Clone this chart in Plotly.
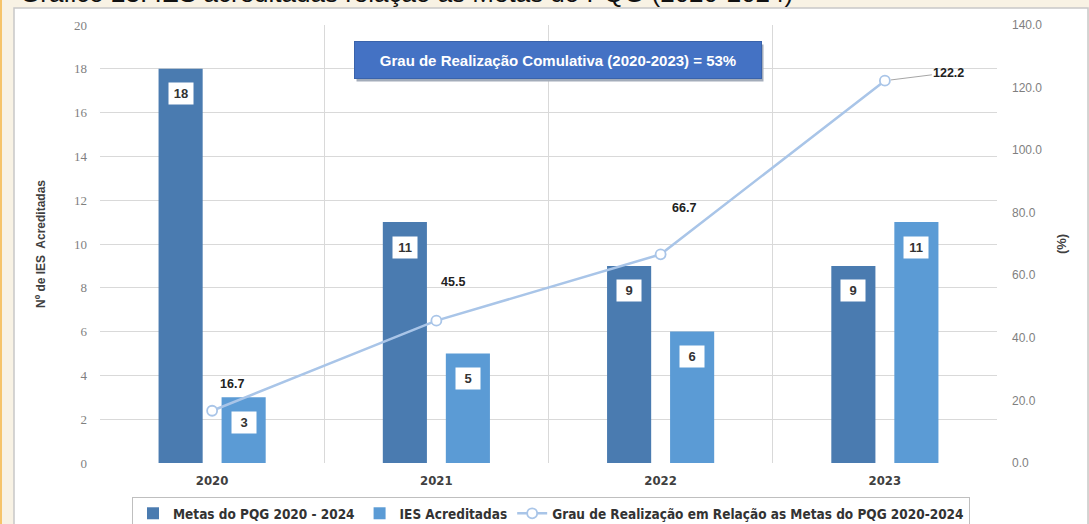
import plotly.graph_objects as go

years = ["2020", "2021", "2022", "2023"]
metas = [18, 11, 9, 9]
acreditadas = [3, 5, 6, 11]
grau = [16.7, 45.5, 66.7, 122.2]
left_ticks = list(range(0, 21, 2))
right_ticks = [0, 20, 40, 60, 80, 100, 120, 140]

name_metas = "Metas do PQG 2020 - 2024"
name_ies = "IES Acreditadas"
name_grau = "Grau de Realização em Relação as Metas do PQG 2020-2024"
box_text = "Grau de Realização Comulativa (2020-2023) = 53%"
top_text = "Gráfico 23: IES acreditadas relação às Metas do PQG (2020-2024)"

W, H = 1089, 524
ML, MR, MT, MB = 100, 92, 25, 61
PW = W - ML - MR
PH = H - MT - MB
BARGAP = 0.438
BARGROUPGAP = 0.30

def px_x(px):
    return (px - ML) / PW

def px_y(py):
    return (H - MB - py) / PH

c_dark = "#4a7bb0"
c_light = "#5b9bd5"
c_line = "#a9c5e8"
narrow = "DejaVu Sans Condensed, Liberation Sans Narrow, Arial Narrow, sans-serif"

fig = go.Figure()
fig.add_trace(go.Bar(x=years, y=metas, name=name_metas, marker_color=c_dark,
                     marker_line_width=0))
fig.add_trace(go.Bar(x=years, y=acreditadas, name=name_ies, marker_color=c_light,
                     marker_line_width=0))
fig.add_trace(go.Scatter(x=years, y=grau, name=name_grau, yaxis="y2",
                         mode="lines+markers",
                         line=dict(color=c_line, width=2.5),
                         marker=dict(symbol="circle", size=10, color="white",
                                     line=dict(color=c_line, width=1.8))))

ann = []
shift = (PW / len(years)) * (1 - BARGAP) / 4
for series, sgn in ((metas, -1), (acreditadas, 1)):
    for i, v in enumerate(series):
        ann.append(dict(x=i, y=v, xref="x", yref="y", text=f"<b>{v}</b>",
                        showarrow=False, xshift=sgn * shift, yshift=-25,
                        bgcolor="white", borderpad=3, width=18,
                        font=dict(family="Liberation Sans, Arial", size=13, color="#333333")))

label_offsets = [(20, -27), (17, -39), (23, -46), (64, -8)]
for i, v in enumerate(grau):
    dx, dy = label_offsets[i]
    if i == 3:
        ann.append(dict(x=i, y=v, xref="x", yref="y2", text=f"<b>{v}</b>",
                        showarrow=True, ax=dx, ay=dy, arrowhead=0, arrowwidth=1,
                        arrowcolor="#a6a6a6", standoff=6,
                        font=dict(family="Liberation Sans, Arial", size=12.5, color="#222222")))
    else:
        ann.append(dict(x=i, y=v, xref="x", yref="y2", text=f"<b>{v}</b>",
                        showarrow=False, xshift=dx, yshift=-dy,
                        font=dict(family="Liberation Sans, Arial", size=12.5, color="#222222")))

# title box with shadow
ann.append(dict(x=px_x(559.5), y=px_y(63), xref="paper", yref="paper", text="",
                xanchor="center", yanchor="middle",
                showarrow=False, width=398, height=28, borderpad=4,
                bgcolor="#a3acba"))
ann.append(dict(x=px_x(557.5), y=px_y(60), xref="paper", yref="paper",
                xanchor="center", yanchor="middle",
                text=f"<b>{box_text}</b>", showarrow=False, width=398, height=28,
                borderpad=4, bgcolor="#4472c4", bordercolor="#3a63ab", borderwidth=1,
                font=dict(family="Liberation Sans, Arial", size=15, color="white")))
# partially visible document caption
ann.append(dict(x=px_x(18), y=px_y(10), xref="paper", yref="paper",
                xanchor="left", yanchor="bottom", text=top_text, showarrow=False,
                font=dict(family="Liberation Sans, Arial", size=26, color="#111111")))

shapes = [
    dict(type="rect", xref="paper", yref="paper", x0=px_x(14), x1=px_x(1088),
         y0=px_y(560), y1=px_y(8), fillcolor="white",
         line=dict(color="#c8c8c8", width=1.5), layer="below"),
    dict(type="rect", xref="paper", yref="paper", x0=px_x(0), x1=px_x(2),
         y0=px_y(560), y1=px_y(-5), fillcolor="#f6c46a", line_width=0, layer="below"),
]

fig.update_layout(
    width=W, height=H,
    margin=dict(l=ML, r=MR, t=MT, b=MB, autoexpand=False),
    paper_bgcolor="#f8f2e4",
    plot_bgcolor="#f1f1f1",
    barmode="group", bargap=BARGAP, bargroupgap=BARGROUPGAP,
    showlegend=True,
    legend=dict(orientation="h", x=px_x(551), xanchor="center", y=px_y(497),
                yanchor="top", bgcolor="white", bordercolor="#bfbfbf", borderwidth=1,
                font=dict(family=narrow, size=13.5, color="#333333", weight="bold"),
                tracegroupgap=0),
    xaxis=dict(type="category", range=[-0.5, 3.5], showgrid=False, ticks="",
               tickfont=dict(family=narrow, size=13, color="#404040", weight="bold"),
               ticklabelstandoff=8, showline=False, zeroline=False),
    xaxis2=dict(overlaying="x", range=[-0.5, 3.5], tickvals=[0.5, 1.5, 2.5],
                showticklabels=False, showgrid=True, gridcolor="#d9d9d9", gridwidth=1,
                ticks="", zeroline=False, side="bottom"),
    yaxis=dict(range=[0, 20], tickvals=left_ticks, showgrid=True, gridcolor="#d9d9d9",
               gridwidth=1, zeroline=False, ticks="", ticklabelstandoff=12,
               tickfont=dict(family="Liberation Serif, serif", size=13, color="#7f7f7f"),
               title=dict(text="<b>Nº de IES  Acreditadas</b>", standoff=25,
                          font=dict(family="Liberation Sans, Arial", size=12, color="#404040")),
               showline=False),
    yaxis2=dict(range=[0, 140], tickvals=right_ticks, overlaying="y", side="right",
                showgrid=False, zeroline=False, ticks="", ticklabelstandoff=14,
                tickformat=".1f",
                tickfont=dict(family="Liberation Sans Narrow, Liberation Sans", size=12, color="#7f7f7f"),
                title=dict(text="<b>(%)</b>", standoff=15,
                           font=dict(family="Liberation Sans, Arial", size=13, color="#404040"))),
    annotations=ann,
    shapes=shapes,
)

# invisible trace to activate xaxis2 grid
fig.add_trace(go.Scatter(x=[0.5], y=[0], xaxis="x2", mode="markers",
                         marker=dict(opacity=0), showlegend=False, hoverinfo="skip"))

fig.write_html("out.html", config={"displayModeBar": False},
               post_script="document.body.style.margin='0';document.body.style.overflow='hidden';")
